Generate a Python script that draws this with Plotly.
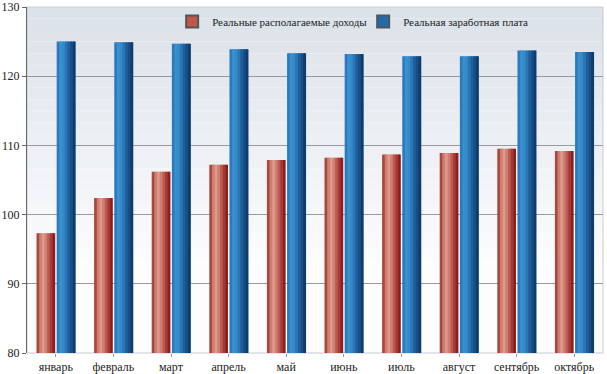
import plotly.graph_objects as go

months = ["январь", "февраль", "март", "апрель", "май", "июнь", "июль", "август", "сентябрь", "октябрь"]
income = [97.3, 102.4, 106.2, 107.2, 107.9, 108.2, 108.7, 108.9, 109.5, 109.2]
wages = [125.0, 124.9, 124.7, 123.9, 123.3, 123.2, 122.9, 122.9, 123.7, 123.5]
y_ticks = [80, 90, 100, 110, 120, 130]
name_income = "Реальные располагаемые доходы"
name_wages = "Реальная заработная плата"

red_strips = ["#a9483f", "#cf7e70", "#dc9a8c", "#cf7f72", "#bb5a52", "#a53a36", "#8e1f1f"]
blue_strips = ["#2d7bbd", "#3b90d0", "#3489c9", "#2a75b4", "#1f5f9c", "#174e86", "#0e3c6c"]

SERIF = "Liberation Serif"

fig = go.Figure()
x_idx = list(range(len(months)))

def add_bar(values, colors, start, width, name, legend_color):
    n = len(colors)
    w = width / n
    for i, c in enumerate(colors):
        ww = w * 1.6 if i < n - 1 else w
        fig.add_trace(go.Bar(
            x=x_idx, y=values, base=0, width=ww, offset=start + i * w,
            marker=dict(color=c, line=dict(width=0)),
            showlegend=False, hoverinfo="skip"))
    fig.add_trace(go.Bar(
        x=[None], y=[None], name=name,
        marker=dict(color=legend_color, line=dict(color="#555", width=0.6)),
        showlegend=True))

add_bar(income, red_strips, -0.335, 0.325, name_income, "#c0574d")
add_bar(wages, blue_strips, 0.015, 0.33, name_wages, "#256aa8")

shapes = []
nb = 30
top = (0xdc, 0xe2, 0xea)
bot = (0xfd, 0xfd, 0xfe)
for i in range(nb):
    f = i / (nb - 1)
    t = min(1.0, f / 0.75)
    col = tuple(int(top[k] + (bot[k] - top[k]) * t) for k in range(3))
    y1 = 1 - i / nb
    y0 = 1 - (i + 1) / nb
    shapes.append(dict(type="rect", xref="x domain", yref="y domain", x0=0, x1=1, y0=y0, y1=y1,
                       fillcolor="rgb(%d,%d,%d)" % col, line=dict(width=0), layer="below"))
shapes.append(dict(type="rect", xref="x domain", yref="y domain", x0=0, x1=1, y0=0, y1=1,
                   line=dict(color="#c8ccd2", width=1), fillcolor="rgba(0,0,0,0)", layer="below"))

fig.update_layout(
    width=607, height=374,
    margin=dict(l=27, r=4, t=7, b=21),
    paper_bgcolor="white", plot_bgcolor="rgba(0,0,0,0)",
    barmode="overlay",
    shapes=shapes,
    font=dict(family=SERIF, size=12, color="#222"),
    legend=dict(orientation="h", x=0.252, y=1.0, xanchor="left", yanchor="top",
                bgcolor="rgba(0,0,0,0)", font=dict(size=11, family=SERIF, color="#222"),
                entrywidth=146, itemsizing="constant"),
    xaxis=dict(range=[-0.5, len(months) - 0.5], tickmode="array", tickvals=x_idx, ticktext=months,
               showgrid=False, ticks="outside", tickson="boundaries", ticklen=3, tickcolor="#999",
               showline=False, zeroline=False, automargin=False,
               tickfont=dict(size=12, family=SERIF, color="#222")),
    yaxis=dict(range=[80, 130], tickmode="array", tickvals=y_ticks, showgrid=True,
               gridcolor="#9a9a9a", gridwidth=1, ticklabeloverflow="allow",
               showline=True, linecolor="#666", linewidth=1, ticks="outside", ticklen=4, tickcolor="#666",
               zeroline=False, automargin=False,
               tickfont=dict(size=12, family=SERIF, color="#222")),
)

fig.write_html("out.html", config={"displayModeBar": False},
               post_script="document.body.style.margin='0';document.body.style.padding='0';")
